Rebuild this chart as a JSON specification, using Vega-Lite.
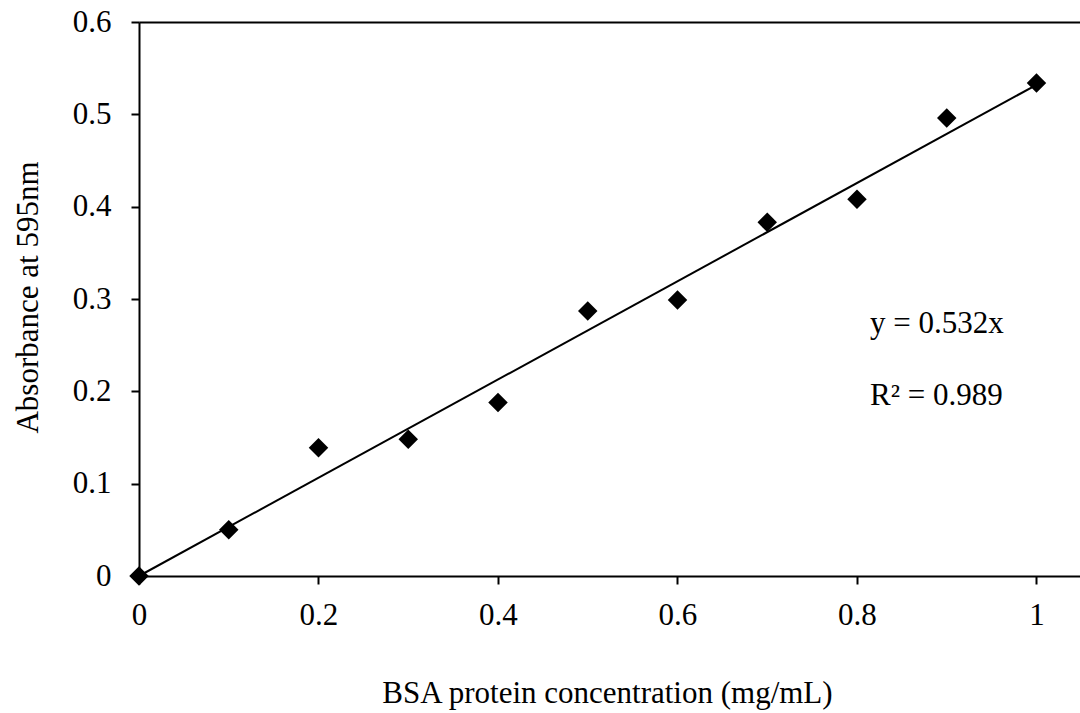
{
  "$schema": "https://vega.github.io/schema/vega-lite/v6.json",
  "autosize": {"type": "none"},
  "padding": {"left": 139, "top": 22, "right": 0, "bottom": 137},
  "width": 941,
  "height": 554,
  "background": "white",
  "config": {
    "view": {"stroke": null},
    "font": "Liberation Serif",
    "axis": {
      "domainColor": "black",
      "domainWidth": 2,
      "tickColor": "black",
      "tickWidth": 2,
      "tickSize": 8,
      "grid": false,
      "labelFlush": false,
      "labelFont": "Liberation Serif",
      "labelFontSize": 31,
      "labelColor": "black",
      "titleFont": "Liberation Serif",
      "titleFontSize": 31,
      "titleFontWeight": "normal",
      "titleColor": "black"
    }
  },
  "datasets": {
    "points": [
      {"conc": 0.0, "abs": 0.0},
      {"conc": 0.1, "abs": 0.05},
      {"conc": 0.2, "abs": 0.139},
      {"conc": 0.3, "abs": 0.148},
      {"conc": 0.4, "abs": 0.188},
      {"conc": 0.5, "abs": 0.287},
      {"conc": 0.6, "abs": 0.299},
      {"conc": 0.7, "abs": 0.383},
      {"conc": 0.8, "abs": 0.408},
      {"conc": 0.9, "abs": 0.496},
      {"conc": 1.0, "abs": 0.534}
    ],
    "trend": [
      {"conc": 0.0, "abs": 0.0},
      {"conc": 1.0, "abs": 0.532}
    ],
    "notes": [
      {"conc": 0.8145, "abs": 0.2632, "label": "y = 0.532x"},
      {"conc": 0.8145, "abs": 0.1852, "label": "R² = 0.989"}
    ]
  },
  "layer": [
    {
      "data": {"name": "trend"},
      "mark": {"type": "line", "color": "black", "strokeWidth": 2},
      "encoding": {
        "x": {
          "field": "conc", "type": "quantitative",
          "scale": {"domain": [0, 1.0485], "nice": false, "zero": false},
          "axis": {
            "orient": "bottom",
            "values": [0, 0.2, 0.4, 0.6, 0.8, 1],
            "format": ".1~f",
            "labelPadding": 16,
            "title": "BSA protein concentration (mg/mL)",
            "titleX": 468,
            "titleY": 126,
            "titleBaseline": "alphabetic",
            "titleAlign": "center"
          }
        },
        "y": {
          "field": "abs", "type": "quantitative",
          "scale": {"domain": [0, 0.6], "nice": false},
          "axis": {
            "values": [0, 0.1, 0.2, 0.3, 0.4, 0.5, 0.6],
            "format": ".1~f",
            "labelPadding": 20,
            "title": "Absorbance at 595nm",
            "titleX": -102,
            "titleY": 275,
            "titleAngle": -90,
            "titleBaseline": "alphabetic",
            "titleAlign": "center"
          }
        }
      }
    },
    {
      "data": {"name": "points"},
      "mark": {"type": "point", "shape": "diamond", "filled": true, "color": "black", "opacity": 1, "size": 380},
      "encoding": {
        "x": {
          "field": "conc", "type": "quantitative",
          "axis": {"orient": "top", "ticks": false, "labels": false, "title": null, "domain": true}
        },
        "y": {"field": "abs", "type": "quantitative"}
      }
    },
    {
      "data": {"name": "notes"},
      "mark": {"type": "text", "align": "left", "baseline": "alphabetic", "fontSize": 31, "font": "Liberation Serif", "color": "black"},
      "encoding": {
        "x": {"field": "conc", "type": "quantitative", "axis": null},
        "y": {"field": "abs", "type": "quantitative"},
        "text": {"field": "label"}
      }
    }
  ],
  "resolve": {"axis": {"x": "independent"}}
}
